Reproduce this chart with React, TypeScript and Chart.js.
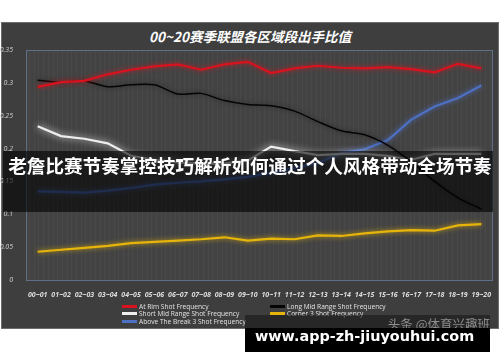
import React, { useEffect, useRef } from "react";
import { Chart, registerables } from "chart.js";

Chart.register(...registerables);

const categories = ["00~01","01~02","02~03","03~04","04~05","05~06","06~07","07~08","08~09","09~10","10~11","11~12","12~13","13~14","14~15","15~16","16~17","17~18","18~19","19~20"];
const yTickLabels = ["0","0.05","0.1","0.15","0.2","0.25","0.3","0.35"];

const atRim = [0.294,0.301,0.303,0.313,0.320,0.325,0.328,0.320,0.328,0.332,0.315,0.322,0.326,0.323,0.322,0.324,0.321,0.316,0.329,0.322];
const longMid = [0.304,0.301,0.303,0.294,0.297,0.297,0.283,0.284,0.273,0.267,0.265,0.257,0.241,0.227,0.221,0.205,0.180,0.150,0.125,0.108];
const shortMid = [0.234,0.219,0.215,0.208,0.189,0.183,0.179,0.177,0.177,0.182,0.203,0.196,0.190,0.192,0.192,0.189,0.183,0.192,0.192,0.192];
const corner3 = [0.043,0.046,0.049,0.052,0.056,0.058,0.060,0.062,0.065,0.060,0.063,0.062,0.068,0.067,0.071,0.074,0.076,0.075,0.083,0.085];
const aboveBreak = [0.135,0.134,0.133,0.136,0.140,0.145,0.148,0.150,0.153,0.157,0.163,0.170,0.178,0.193,0.199,0.213,0.244,0.264,0.277,0.296];

const seriesNames = ["At Rim Shot Frequency","Long Mid Range Shot Frequency","Short Mid Range Shot Frequency","Corner 3 Shot Frequency","Above The Break 3 Shot Frequency"];
const seriesColors = ["#d8121e","#050505","#eeeeee","#e6b40a","#4d70c2"];
const glowColors = ["rgba(230,20,30,0.8)","rgba(0,0,0,0.5)","rgba(255,255,255,0.9)","rgba(240,190,0,0.8)","rgba(80,120,220,0.8)"];
const seriesValues = [atRim, longMid, shortMid, corner3, aboveBreak];

const titleText = "00~20赛季联盟各区域段出手比值";
const bannerText = "老詹比赛节奏掌控技巧解析如何通过个人风格带动全场节奏";
const watermark1 = "头条 @体育兴趣班";
const watermark2 = "www.app-zh-jiuyouhui.com";

const plotPlugin = {
  id: "plotDeco",
  beforeDatasetsDraw(chart: any) {
    const { ctx, chartArea: a } = chart;
    ctx.save();
    ctx.fillStyle = "#434343";
    ctx.fillRect(a.left, a.top, a.right - a.left, a.bottom - a.top);
    ctx.strokeStyle = "rgba(255,255,255,0.035)";
    ctx.lineWidth = 1;
    for (let x = a.left + 3; x < a.right; x += 4.7) {
      ctx.beginPath();
      ctx.moveTo(Math.round(x) + 0.5, a.top);
      ctx.lineTo(Math.round(x) + 0.5, a.bottom);
      ctx.stroke();
    }
    ctx.restore();
  },
  beforeDatasetDraw(chart: any, args: any) {
    const ctx = chart.ctx;
    ctx.save();
    ctx.shadowColor = glowColors[args.index];
    ctx.shadowBlur = args.index === 2 ? 7 : 5;
  },
  afterDatasetDraw(chart: any) {
    chart.ctx.restore();
  },
  afterDatasetsDraw(chart: any) {
    const { ctx, chartArea: a } = chart;
    ctx.save();
    ctx.strokeStyle = "#5d7088";
    ctx.lineWidth = 1;
    ctx.strokeRect(Math.round(a.left) + 0.5, Math.round(a.top) + 0.5, Math.round(a.right - a.left) - 1, Math.round(a.bottom - a.top));
    ctx.restore();
  },
};

function App() {
  const ref = useRef<HTMLCanvasElement | null>(null);
  useEffect(() => {
    if (!ref.current) return;
    const chart = new Chart(ref.current, {
      type: "line",
      data: {
        labels: categories,
        datasets: seriesValues.map((vals, i) => ({
          label: seriesNames[i],
          data: vals,
          borderColor: seriesColors[i],
          backgroundColor: seriesColors[i],
          borderWidth: i === 1 ? 1.5 : 2.2,
          pointRadius: 0,
          tension: i === 1 ? 0.3 : 0,
          fill: false,
        })),
      },
      options: {
        animation: false,
        responsive: false,
        devicePixelRatio: 1,
        layout: { padding: { top: 50, left: 0, right: 7, bottom: 62 } },
        plugins: { legend: { display: false }, title: { display: false }, tooltip: { enabled: false } },
        scales: {
          x: {
            type: "category",
            offset: true,
            grid: { display: false },
            border: { display: false },
            ticks: {
              color: "#dedede",
              autoSkip: false,
              maxRotation: 0,
              padding: 3,
              font: { family: "'Open Sans', sans-serif", size: 7, style: "italic", weight: "bold" },
            },
            afterFit: (s: any) => { s.height = 20; },
          },
          y: {
            min: 0,
            max: 0.35,
            grid: { display: false },
            border: { display: false },
            ticks: {
              stepSize: 0.05,
              color: "#d4d4d4",
              padding: 5,
              font: { family: "'Open Sans', sans-serif", size: 7, style: "italic" },
              callback: (_v: any, idx: number) => yTickLabels[idx],
            },
            afterFit: (s: any) => { s.width = 26; },
          },
        },
      } as any,
      plugins: [plotPlugin],
    });
    return () => chart.destroy();
  }, []);

  const legendItem = (i: number, left: number, top: number) => (
    <div key={i} style={{ position: "absolute", left, top: top - 5, height: 10, display: "flex", alignItems: "center", whiteSpace: "nowrap" }}>
      <div style={{ width: 15, height: 3, background: seriesColors[i], marginRight: 2 }} />
      <span style={{ font: "6.6px 'Open Sans', sans-serif", color: "#e4e4e4" }}>{seriesNames[i]}</span>
    </div>
  );

  return (
    <div style={{ position: "absolute", left: 0, top: 0, width: 500, height: 362, background: "#ffffff", overflow: "hidden" }}>
      <div style={{ position: "absolute", left: 1, top: 22, width: 498, height: 307, background: "#3e3e3e", border: "1px solid #6c6c6c", boxSizing: "border-box" }} />
      <div style={{ position: "absolute", left: 0, top: 26, width: 500, textAlign: "center", color: "#ffffff", font: "italic bold 13.5px 'Noto Sans CJK SC', sans-serif", lineHeight: "20px" }}>{titleText}</div>
      <canvas ref={ref} width={500} height={362} style={{ position: "absolute", left: 0, top: 0, width: 500, height: 362 }} />
      {legendItem(0, 122, 306)}
      {legendItem(2, 122, 313.5)}
      {legendItem(4, 122, 321)}
      {legendItem(1, 270, 306)}
      {legendItem(3, 270, 313.5)}
      <div style={{ position: "absolute", left: 3, top: 151, width: 490, height: 61, background: "rgba(0,0,0,0.6)" }} />
      <div style={{ position: "absolute", left: 0, top: 151, width: 500, height: 61, lineHeight: "61px", textAlign: "center", color: "#ffffff", font: "bold 18.6px 'Noto Sans CJK SC', sans-serif", whiteSpace: "nowrap" }}>{bannerText}</div>
      <div style={{ position: "absolute", left: 245, top: 315, width: 245, height: 14, background: "rgba(20,20,20,0.55)" }} />
      <div style={{ position: "absolute", left: 380, top: 314, width: 110, height: 16, lineHeight: "16px", textAlign: "right", color: "#8e8e8e", font: "12.5px 'Noto Sans CJK SC', sans-serif", whiteSpace: "nowrap" }}>{watermark1}</div>
      <div style={{ position: "absolute", left: 245, top: 328, width: 245, height: 24, background: "#000000" }} />
      <div style={{ position: "absolute", left: 255, top: 328, height: 20, lineHeight: "20px", color: "#ffffff", font: "bold 14.4px 'DejaVu Sans', sans-serif", whiteSpace: "nowrap" }}>{watermark2}</div>
    </div>
  );
}

export default App;
